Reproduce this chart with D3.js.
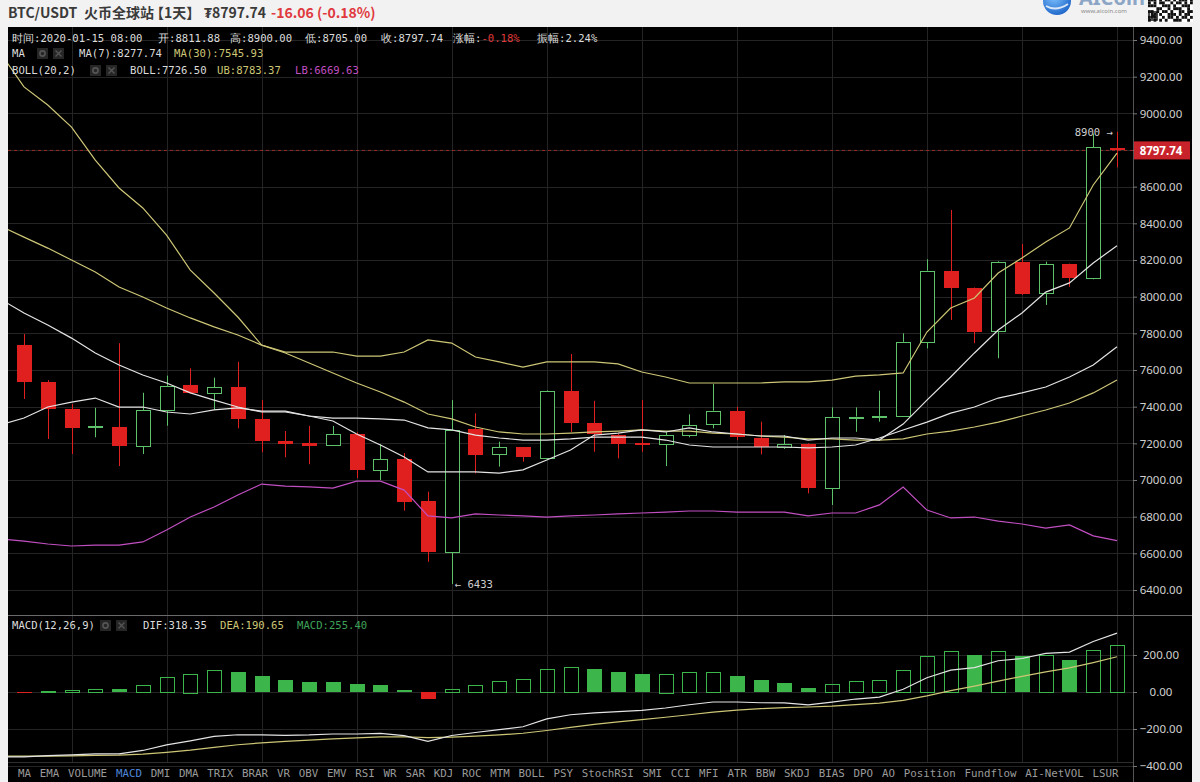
<!DOCTYPE html>
<html><head><meta charset="utf-8">
<script src="https://cdn.jsdelivr.net/npm/d3@7"></script>
<style>
html,body{margin:0;padding:0;background:#f2f2f2;overflow:hidden;}
svg{display:block;}
</style></head><body>
<svg id="c" width="1200" height="782"></svg>
<script>
// ---------------- DATA ----------------
const openP  = [7736,7533,7386,7285,7290,7187,7382,7520,7476,7506,7333,7214,7200,7189,7251,7054,7113,6887,6609,7276,7140,7178,7124,7487,7309,7245,7200,7195,7245,7305,7378,7231,7178,7196,6955,7340,7344,7349,7754,8142,8046,7813,8191,8018,8176,8100,8811.88];
const highP  = [7796,7545,7414,7394,7746,7476,7569,7609,7558,7645,7436,7267,7295,7295,7260,7195,7147,6936,7436,7364,7209,7180,7490,7687,7432,7250,7436,7263,7358,7524,7400,7318,7245,7200,7396,7396,7487,7800,8204,8473,8050,8195,8287,8191,8180,8890,8900];
const lowP   = [7442,7224,7142,7233,7076,7142,7296,7470,7382,7282,7151,7124,7086,7187,7011,7000,6833,6554,6433,7036,7073,7100,7120,7263,7154,7118,7154,7076,7233,7282,7218,7140,7170,6927,6864,7263,7318,7345,7718,7873,7746,7664,8010,7955,8054,8095,8705];
const closeP = [7533,7386,7285,7292,7187,7382,7514,7476,7506,7333,7214,7198,7187,7251,7054,7113,6882,6609,7273,7136,7178,7124,7487,7309,7251,7195,7190,7245,7300,7378,7236,7182,7195,6955,7342,7346,7350,7754,8142,8046,7809,8191,8014,8176,8100,8813.80,8797.74];
// indicator lines: first value belongs to the day before the first candle
const ma7  = [7300,7338,7398,7425,7447,7398,7398,7371,7360,7382,7393,7376,7376,7349,7322,7251,7191,7125,7044,7044,7044,7038,7055,7109,7164,7245,7256,7273,7262,7284,7262,7251,7240,7240,7218,7229,7229,7218,7305,7436,7562,7693,7818,7911,8025,8075,8184,8277.74];
const ma30 = [8385,8325,8265,8200,8135,8053,7998,7938,7884,7835,7791,7736,7693,7638,7584,7529,7480,7425,7360,7333,7289,7262,7251,7251,7256,7262,7267,7273,7267,7267,7256,7251,7240,7234,7224,7224,7218,7218,7224,7251,7267,7289,7316,7349,7382,7420,7475,7545.93];
const bollMid = [7987,7911,7845,7774,7693,7627,7573,7529,7475,7436,7398,7371,7371,7349,7338,7338,7333,7327,7284,7273,7245,7229,7218,7218,7224,7234,7234,7234,7218,7191,7180,7180,7180,7180,7175,7180,7191,7229,7273,7316,7365,7398,7447,7475,7507,7562,7627,7726.50];
const bollUB  = [9330,9144,9045,8925,8745,8593,8484,8336,8145,8020,7889,7736,7698,7698,7698,7676,7676,7698,7764,7747,7671,7644,7616,7644,7644,7644,7633,7589,7562,7529,7529,7529,7529,7535,7535,7545,7567,7573,7584,7807,7938,7993,8129,8211,8298,8375,8609,8783.37];
const bollLB  = [6678,6667,6651,6640,6645,6645,6662,6727,6798,6853,6918,6978,6967,6962,6956,6994,6994,6945,6804,6793,6815,6809,6804,6798,6804,6809,6815,6820,6825,6831,6831,6825,6825,6825,6804,6820,6820,6864,6962,6836,6793,6798,6776,6760,6738,6755,6695,6669.63];
const macdHist = [-8,5,10,18,15,40,80,100,118,108,85,65,55,52,42,38,12,-40,18,40,58,70,125,135,125,110,100,100,108,110,88,65,50,22,42,60,65,120,195,222,200,220,195,200,172,228,255.40];
const dif = [-350,-351,-344,-340,-334,-334,-316,-286,-264,-240,-231,-232,-234,-232,-227,-227,-224,-236,-267,-235,-219,-203,-188,-145,-123,-113,-106.5,-99,-86.5,-69,-54,-54,-58,-59,-70,-55,-38,-28,15,77,118,132,169,181,209,216,273,318.35];
const dea = [-346,-347,-346.5,-345,-343,-341,-336,-326,-314,-299,-285,-275,-267,-260,-253,-248,-243,-242,-247,-244,-239,-232,-223,-208,-191,-175,-161.5,-149,-136.5,-123,-109,-98,-90,-84,-81,-76,-68,-60,-45,-21,7,32,59,84,109,130,159,190.65];
const priceTicks = [9400,9200,9000,8800,8600,8400,8200,8000,7800,7600,7400,7200,7000,6800,6600,6400];
const macdTicks = [200,0,-200,-400];
const toolItems = ["MA","EMA","VOLUME","MACD","DMI","DMA","TRIX","BRAR","VR","OBV","EMV","RSI","WR","SAR","KDJ","ROC","MTM","BOLL","PSY","StochRSI","SMI","CCI","MFI","ATR","BBW","SKDJ","BIAS","DPO","AO","Position","Fundflow","AI-NetVOL","LSUR"];
const days = d3.timeDay.range(new Date(2019,10,30), new Date(2020,0,16));
const lastPrice = 8797.74;

// ---------------- LAYOUT ----------------
const W=1200,H=782,L=8,R=1192,T=27,AX=1133,SEP=615,BOT=762;
const RED="#e0201e", GREEN="#5ec26a", HGREEN="#3cb54a", WHITE="#e4e4e4", YEL="#cdc676", MAG="#c24fc2", GRID="#242424";
const mono = "'DejaVu Sans Mono', monospace";
const svg=d3.select('#c');
svg.append('rect').attr('width',W).attr('height',H).attr('fill','#f2f2f2');
svg.append('rect').attr('x',L).attr('y',T).attr('width',R-L).attr('height',H-T).attr('fill','#000');

const defs=svg.append('defs');
defs.append('clipPath').attr('id','cp').append('rect').attr('x',L).attr('y',T).attr('width',AX-L).attr('height',SEP-T);
defs.append('clipPath').attr('id','cm').append('rect').attr('x',L).attr('y',SEP+1).attr('width',AX-L).attr('height',BOT-SEP-1);
const grad=defs.append('radialGradient').attr('id','lg').attr('cx','40%').attr('cy','35%').attr('r','70%');
grad.append('stop').attr('offset','0%').attr('stop-color','#7fc3ff');
grad.append('stop').attr('offset','100%').attr('stop-color','#1c64c8');

const x = d3.scaleLinear().domain([0, days.length-1]).range([24,1117]);
const y = d3.scaleLinear().domain([6400,9400]).range([590,40]);
const ym = d3.scaleLinear().domain([-400,200]).range([766,655]);

// grid
const grid=svg.append('g').attr('shape-rendering','crispEdges');
const vIdx = d3.range(2, days.length, 4);
grid.selectAll('.vg').data(vIdx).join('line').attr('x1',d=>Math.round(x(d))+0.5).attr('x2',d=>Math.round(x(d))+0.5)
  .attr('y1',T).attr('y2',BOT).attr('stroke',GRID);
grid.selectAll('.hg').data(priceTicks).join('line').attr('x1',L).attr('x2',AX).attr('y1',d=>Math.round(y(d))+0.5).attr('y2',d=>Math.round(y(d))+0.5).attr('stroke',GRID);
grid.selectAll('.hm').data(macdTicks).join('line').attr('x1',L).attr('x2',AX).attr('y1',d=>Math.round(ym(d))+0.5).attr('y2',d=>Math.round(ym(d))+0.5).attr('stroke',GRID);

// separators
svg.append('line').attr('x1',L).attr('x2',R).attr('y1',SEP+0.5).attr('y2',SEP+0.5).attr('stroke','#6a6a6a');
svg.append('line').attr('x1',L).attr('x2',AX).attr('y1',BOT+0.5).attr('y2',BOT+0.5).attr('stroke','#2e2e2e');
svg.append('line').attr('x1',AX+0.5).attr('x2',AX+0.5).attr('y1',T).attr('y2',H).attr('stroke','#555');

// price panel
const pp=svg.append('g').attr('clip-path','url(#cp)');
pp.append('line').attr('x1',L).attr('x2',AX).attr('y1',y(lastPrice)).attr('y2',y(lastPrice))
  .attr('stroke','#9a2a2a').attr('stroke-dasharray','3,3');

const idx = d3.range(closeP.length);
const cw=15;
const cg=pp.append('g');
idx.forEach(i=>{
  const up = closeP[i]>=openP[i];
  const cx = Math.round(x(i))+0.5;
  const top = y(Math.max(openP[i],closeP[i])), bot=y(Math.min(openP[i],closeP[i]));
  const col = up?GREEN:RED;
  if(up){
    cg.append('line').attr('x1',cx).attr('x2',cx).attr('y1',y(highP[i])).attr('y2',top).attr('stroke',col);
    cg.append('line').attr('x1',cx).attr('x2',cx).attr('y1',bot).attr('y2',y(lowP[i])).attr('stroke',col);
    cg.append('rect').attr('x',cx-7).attr('y',Math.round(top)+0.5).attr('width',14).attr('height',Math.max(1,Math.round(bot-top)))
      .attr('fill','#000').attr('stroke',col).attr('shape-rendering','crispEdges');
  } else {
    cg.append('line').attr('x1',cx).attr('x2',cx).attr('y1',y(highP[i])).attr('y2',y(lowP[i])).attr('stroke',col);
    cg.append('rect').attr('x',cx-7.5).attr('y',top).attr('width',cw).attr('height',Math.max(1.5,bot-top))
      .attr('fill',col).attr('shape-rendering','crispEdges');
  }
});
const lineP = d3.line().x((d,i)=>x(i-1)).y(d=>y(d));
[[bollUB,YEL],[ma30,YEL],[bollLB,MAG],[bollMid,WHITE],[ma7,WHITE]].forEach(([arr,c])=>{
  pp.append('path').attr('d',lineP(arr)).attr('fill','none').attr('stroke',c).attr('stroke-width',1.2);
});
const iHi = d3.maxIndex(highP), iLo = d3.minIndex(lowP);
pp.append('text').attr('x',x(iHi)-4).attr('y',y(highP[iHi])+4).attr('text-anchor','end')
  .attr('font-family',mono).attr('font-size',10.6).attr('fill','#cfcfcf').text(highP[iHi]+' →');
pp.append('text').attr('x',x(iLo)+3).attr('y',y(lowP[iLo])+4)
  .attr('font-family',mono).attr('font-size',10.6).attr('fill','#cfcfcf').text('← '+lowP[iLo]);

// macd panel
const mp=svg.append('g').attr('clip-path','url(#cm)');
idx.forEach(i=>{
  const v=macdHist[i], prev = i>0?macdHist[i-1]:0;
  const cx=Math.round(x(i))+0.5;
  const y0=ym(0), y1=ym(v);
  const col = v>=0?HGREEN:RED;
  const filled = v>=0 ? (i>0 && v<prev) : (v<=prev);
  if(filled){
    mp.append('rect').attr('x',cx-7.5).attr('y',Math.min(y0,y1)).attr('width',cw).attr('height',Math.max(1,Math.abs(y1-y0)))
      .attr('fill',col).attr('shape-rendering','crispEdges');
  } else {
    mp.append('rect').attr('x',cx-7).attr('y',Math.round(Math.min(y0,y1))+0.5).attr('width',14).attr('height',Math.max(1,Math.round(Math.abs(y1-y0))))
      .attr('fill','none').attr('stroke',col).attr('shape-rendering','crispEdges');
  }
});
const lineM = d3.line().x((d,i)=>x(i-1)).y(d=>ym(d));
mp.append('path').attr('d',lineM(dea)).attr('fill','none').attr('stroke',YEL).attr('stroke-width',1.2);
mp.append('path').attr('d',lineM(dif)).attr('fill','none').attr('stroke',WHITE).attr('stroke-width',1.2);

// axes
function styleAxis(g){
  g.select('.domain').remove();
  g.selectAll('.tick line').attr('stroke','#777');
  g.selectAll('.tick text').attr('x',28).attr('text-anchor','middle').attr('fill','#d0d0d0')
   .attr('font-family',"'Noto Sans', 'Open Sans', sans-serif").attr('font-size',11.5);
}
svg.append('g').attr('transform',`translate(${AX},0)`)
  .call(d3.axisRight(y).tickValues(priceTicks).tickFormat(d3.format('.2f')).tickSize(4)).call(styleAxis);
svg.append('g').attr('transform',`translate(${AX},0)`)
  .call(d3.axisRight(ym).tickValues(macdTicks).tickFormat(d3.format('.2f')).tickSize(4)).call(styleAxis);
svg.append('rect').attr('x',AX+1).attr('y',y(lastPrice)-9).attr('width',R-AX-3).attr('height',18).attr('fill','#c8232b');
svg.append('text').attr('x',AX+28).attr('y',y(lastPrice)+4.5).attr('text-anchor','middle').attr('fill','#fff')
  .attr('font-family',"'Noto Sans', sans-serif").attr('font-size',11.5).attr('font-weight','bold').text(d3.format('.2f')(lastPrice));

// info rows
function txt(xp,yp,s,c,size){ return svg.append('text').attr('x',xp).attr('y',yp).attr('font-family',mono).attr('font-size',size||10.6).attr('fill',c).text(s); }
function icons(xp,yp){
  svg.append('rect').attr('x',xp).attr('y',yp-9).attr('width',11).attr('height',11).attr('fill','#262626');
  svg.append('circle').attr('cx',xp+5.5).attr('cy',yp-3.5).attr('r',2.6).attr('fill','none').attr('stroke','#555').attr('stroke-width',1.6);
  svg.append('rect').attr('x',xp+16).attr('y',yp-9).attr('width',11).attr('height',11).attr('fill','#262626');
  svg.append('path').attr('d',`M${xp+18.5},${yp-6.5}L${xp+24.5},${yp-0.5}M${xp+24.5},${yp-6.5}L${xp+18.5},${yp-0.5}`).attr('stroke','#555').attr('stroke-width',1.4);
}
const c0='#dcdcdc';
txt(12,42,'时间:2020-01-15 08:00',c0);
txt(158,42,'开:'+d3.format('.2f')(openP[46]),c0);
txt(230,42,'高:'+d3.format('.2f')(highP[46]),c0);
txt(305,42,'低:'+d3.format('.2f')(lowP[46]),c0);
txt(381,42,'收:'+d3.format('.2f')(closeP[46]),c0);
const zf=txt(453,42,'涨幅:',c0); zf.append('tspan').attr('fill','#e03a3a').text('-0.18%');
txt(537,42,'振幅:2.24%',c0);
txt(12,57,'MA',c0); icons(37,57);
txt(79,57,'MA(7):'+d3.format('.2f')(ma7[47]),c0);
txt(174,57,'MA(30):'+d3.format('.2f')(ma30[47]),YEL);
txt(12,74,'BOLL(20,2)',c0); icons(90,74);
txt(130,74,'BOLL:'+d3.format('.2f')(bollMid[47]),c0);
txt(217,74,'UB:'+d3.format('.2f')(bollUB[47]),YEL);
txt(295,74,'LB:'+d3.format('.2f')(bollLB[47]),MAG);
txt(12,629,'MACD(12,26,9)',c0); icons(100,629);
txt(143,629,'DIF:'+d3.format('.2f')(dif[47]),c0);
txt(220,629,'DEA:'+d3.format('.2f')(dea[47]),YEL);
txt(297,629,'MACD:'+d3.format('.2f')(macdHist[46]),'#3fa05a');

// toolbar
let tx=18; const chw=6.5;
toolItems.forEach(s=>{
  txt(tx,777,s, s==='MACD'?'#4f86d9':'#9a9a9a',10.8);
  tx += s.length*chw + 8.8;
});

// header
const hf="'Noto Sans CJK SC','Noto Sans',sans-serif";
function ht(xp,s,c){ return svg.append('text').attr('x',xp).attr('y',18).attr('font-family',hf).attr('font-size',14).attr('font-weight','bold').attr('fill',c).text(s); }
ht(8,'BTC/USDT','#3a3a3a');
ht(84,'火币全球站','#3a3a3a');
ht(150,'【1天】','#3a3a3a');
ht(204,'₮'+d3.format('.2f')(lastPrice),'#3a3a3a');
ht(271,'-16.06 (-0.18%)','#e0393e');
// logo
svg.append('circle').attr('cx',1057).attr('cy',1).attr('r',14).attr('fill','url(#lg)');
svg.append('path').attr('d','M1046,6 Q1056,12 1068,4').attr('stroke','#fff').attr('stroke-width',2).attr('fill','none').attr('opacity',0.8);
svg.append('text').attr('x',1079).attr('y',5).attr('font-family',"'Noto Sans',sans-serif").attr('font-size',20).attr('font-weight','bold').attr('fill','#8da6c6').text('AICoin');
svg.append('text').attr('x',1081).attr('y',12.5).attr('font-family',"'Noto Sans',sans-serif").attr('font-size',6).attr('fill','#8a8a8a').text('www.aicoin.com');
const qr=svg.append('g').attr('transform','translate(1148,-2)');
qr.append('rect').attr('width',45).attr('height',24).attr('fill','#fff');
const qrRows=["1110101101011101","1010110010110101","1110011101001110","0001100101110010","1101011010011011","0110100111010110","1110010110101101","1010101001110010"];
qrRows.forEach((r,ri)=>r.split('').forEach((b,ci)=>{ if(b==='1') qr.append('rect').attr('x',ci*2.8).attr('y',ri*2.9+0.5).attr('width',2.8).attr('height',2.9).attr('fill','#111'); }));
qr.append('rect').attr('x',1).attr('y',14).attr('width',8).attr('height',8).attr('fill','none').attr('stroke','#111').attr('stroke-width',1.5);
qr.append('rect').attr('x',3.5).attr('y',16.5).attr('width',3).attr('height',3).attr('fill','#111');
</script>
</body></html>
